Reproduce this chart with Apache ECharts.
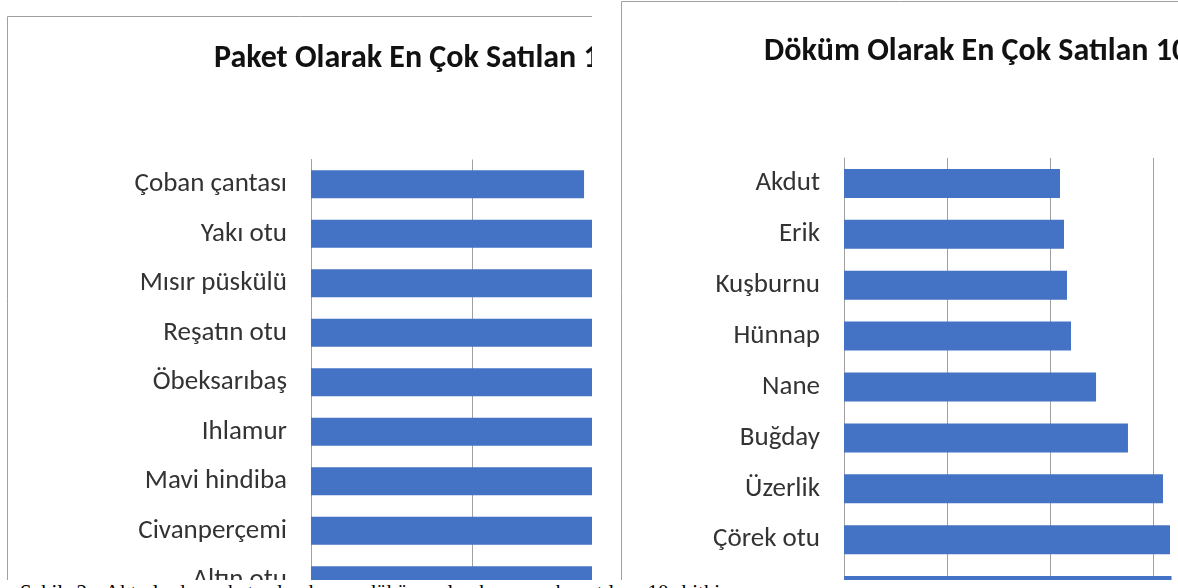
<!DOCTYPE html>
<html>
<head>
<meta charset="utf-8">
<script src="https://cdn.jsdelivr.net/npm/echarts@6/dist/echarts.min.js"></script>
<style>
    html, body { margin: 0; padding: 0; background: #fff; }
    body { width: 1178px; height: 588px; position: relative; overflow: hidden; }
    #paket { position: absolute; left: 0; top: 0; width: 592px; height: 580px; }
    #dokum { position: absolute; left: 600px; top: 0; width: 578px; height: 580px; }
    #caption {
        position: absolute; left: 20px; top: 580px; width: 1150px;
        font-family: "Liberation Serif", "DejaVu Serif", serif; font-size: 21px;
        line-height: 24px; color: #000; white-space: nowrap; word-spacing: 8px;
    }
</style>
</head>
<body>
<div id="paket"></div>
<div id="dokum"></div>
<div id="caption">Şekil 2: Aktarlarda paket olarak ve döküm olarak en çok satılan 10 bitki</div>
<script>
// top to bottom as drawn; the lowest ones are cut off by the picture edge
const paketNames = ['Çoban çantası', 'Yakı otu', 'Mısır püskülü', 'Reşatın otu', 'Öbeksarıbaş',
    'Ihlamur', 'Mavi hindiba', 'Civanperçemi', 'Altın otu'];
const paketValues = [169.6, 176, 178, 180, 182, 184, 186, 188, 190];

const dokumNames = ['Akdut', 'Erik', 'Kuşburnu', 'Hünnap', 'Nane', 'Buğday', 'Üzerlik', 'Çörek otu', ''];
const dokumValues = [209.7, 213.6, 216.5, 220.4, 244.7, 275.7, 309.7, 316.5, 318];

const paketTitle = 'Paket Olarak En Çok Satılan 10 Bitki';
const dokumTitle = 'Döküm Olarak En Çok Satılan 10 Bitki';

const FONT = 'Carlito, Lato, "Noto Sans", sans-serif';
const GRID_COLOR = '#a0a0a0';
const BAR_COLOR = '#4472c4';

function barOptions (title, titleLeft, titleTop, frameX, frameY, names, values, grid, axisMax) {
    return {
        animation: false,
        title: {
            text: title,
            left: titleLeft,
            top: titleTop,
            textStyle: { fontFamily: FONT, fontSize: 32, fontWeight: 'bold', color: '#111' }
        },
        graphic: [{
            type: 'rect',
            silent: true,
            z: -1,
            shape: { x: frameX, y: frameY, width: 2000, height: 2000 },
            style: { fill: '#fff', stroke: GRID_COLOR, lineWidth: 1 }
        }],
        grid: grid,
        xAxis: {
            type: 'value',
            min: 0,
            max: axisMax,
            interval: 100,
            axisLine: { show: false },
            axisTick: { show: false },
            axisLabel: { show: false },
            splitLine: { lineStyle: { color: GRID_COLOR, width: 1 } }
        },
        yAxis: {
            type: 'category',
            inverse: true,
            data: names,
            axisLine: { lineStyle: { color: GRID_COLOR, width: 1 } },
            axisTick: { show: false },
            axisLabel: { fontFamily: FONT, fontSize: 27, color: '#333', margin: 24 }
        },
        series: [{
            type: 'bar',
            data: values,
            barCategoryGap: '43%',
            itemStyle: { color: BAR_COLOR }
        }]
    };
}

const paketChart = echarts.init(document.getElementById('paket'));
paketChart.setOption(barOptions(paketTitle, 209, 38, 7.5, 16.5, paketNames, paketValues,
    { left: 311, top: 159.5, width: 322, height: 445.5, outerBoundsMode: 'none', containLabel: false }, 200));

const dokumChart = echarts.init(document.getElementById('dokum'));
dokumChart.setOption(barOptions(dokumTitle, 159, 31, 21.5, 1.5, dokumNames, dokumValues,
    { left: 244, top: 158, width: 412, height: 458, outerBoundsMode: 'none', containLabel: false }, 400));

window.onresize = function () {
    paketChart.resize();
    dokumChart.resize();
};
</script>
</body>
</html>
